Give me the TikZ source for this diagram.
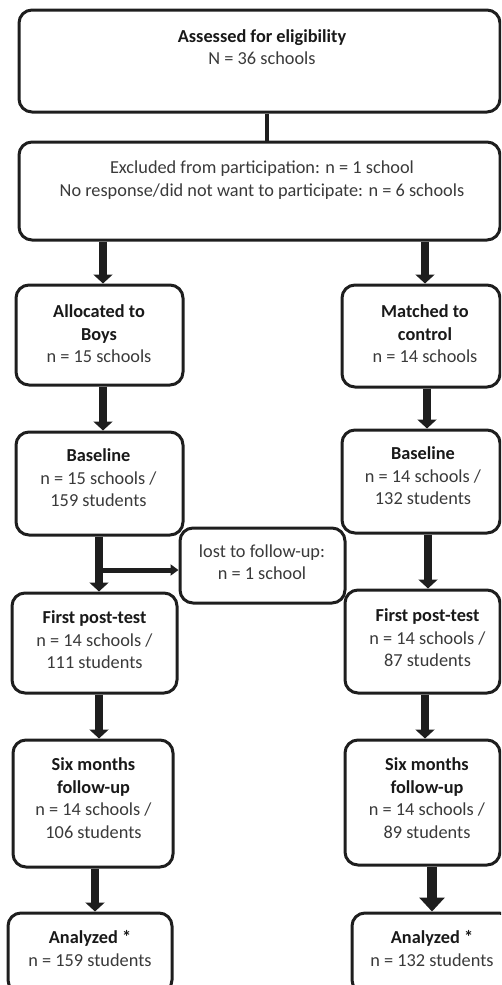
\documentclass[tikz,border=0pt]{standalone}
\usepackage{fontspec}
\setmainfont{Carlito}
\usetikzlibrary{arrows.meta}
\definecolor{ink}{HTML}{1E1E1E}
\definecolor{txt}{HTML}{3A3A3A}
\tikzset{
  box/.style={draw=ink, line width=3pt, rounded corners=13pt, fill=white,
    inner sep=0pt},
  lbl/.style={align=center, text=txt, font=\fontsize{18.3}{22.5}\selectfont,
    inner sep=0pt},
  flow/.style={draw=ink, line width=7.5pt, -{Triangle[width=19pt,length=9pt]}},
  bigflow/.style={draw=ink, line width=10pt, -{Triangle[width=25pt,length=14pt]}},
  side/.style={draw=ink, line width=5pt, -{Triangle[width=11pt,length=8pt]}},
  link/.style={draw=ink, line width=4pt},
}
\newcommand{\hd}[1]{\textbf{\color{black!90}#1}}
\begin{document}
\begin{tikzpicture}[x=1pt,y=-1pt]
\useasboundingbox (0,0) rectangle (501,985);
\clip (0,0) rectangle (501,985);

% boxes: centre, width, height (in px-sized points)
\node[box, minimum width=481, minimum height=102] (assess) at (259.5,61) {};
\node[box, minimum width=481, minimum height=98]  (excl)   at (259.5,191) {};
\node[box, minimum width=167, minimum height=100] (alloc)  at (99.5,335) {};
\node[box, minimum width=158, minimum height=102] (match)  at (421,336) {};
\node[box, minimum width=167, minimum height=103] (baseL)  at (99.5,483.5) {};
\node[box, minimum width=158, minimum height=103] (baseR)  at (421,481.5) {};
\node[box, minimum width=165, minimum height=75]  (lost)   at (262.5,565.5) {};
\node[box, minimum width=165, minimum height=100] (firstL) at (94.5,643) {};
\node[box, minimum width=155, minimum height=103] (firstR) at (422.5,641.5) {};
\node[box, minimum width=160, minimum height=127] (sixL)   at (93,803.5) {};
\node[box, minimum width=155, minimum height=125] (sixR)   at (422.5,802.5) {};
\node[box, minimum width=164, minimum height=80]  (anaL)   at (90,953) {};
\node[box, minimum width=160, minimum height=80]  (anaR)   at (432,953) {};

% box texts
\node[lbl] (assessT) at (262,47) {\hd{Assessed for eligibility}\\N = 36 schools};
\node[lbl] (exclT)   at (262,180) {Excluded from participation: n = 1 school\\No response/did not want to participate: n = 6 schools};
\node[lbl] (allocT)  at (99,334) {\hd{Allocated to}\\\hd{Boys}\\n = 15 schools};
\node[lbl] (matchT)  at (425,334) {\hd{Matched to}\\\hd{control}\\n = 14 schools};
\node[lbl] (baseLT)  at (98.5,478) {\hd{Baseline}\\n = 15 schools /\\159 students};
\node[lbl] (baseRT)  at (423,476) {\hd{Baseline}\\n = 14 schools /\\132 students};
\node[lbl] (lostT)   at (262,562) {lost to follow-up:\\n = 1 school};
\node[lbl] (firstLT) at (94.5,640) {\hd{First post-test}\\n = 14 schools /\\111 students};
\node[lbl] (firstRT) at (427.5,638) {\hd{First post-test}\\n = 14 schools /\\87 students};
\node[lbl] (sixLT)   at (93.5,798) {\hd{Six months}\\\hd{follow-up}\\n = 14 schools /\\106 students};
\node[lbl] (sixRT)   at (427,798) {\hd{Six months}\\\hd{follow-up}\\n = 14 schools /\\89 students};
\node[lbl] (anaLT)   at (90,948.5) {\hd{Analyzed *}\\n = 159 students};
\node[lbl] (anaRT)   at (432,948.5) {\hd{Analyzed *}\\n = 132 students};

% connectors
\draw[link] (assess.south -| 267,0) -- (excl.north -| 267,0);
\draw[flow] (excl.south -| 103,0) -- (alloc.north -| 103,0);
\draw[flow] (excl.south -| 425,0) -- (match.north -| 425,0);
\draw[flow] (alloc.south -| 103,0) -- (baseL.north -| 103,0);
\draw[flow] (match.south -| 427,0) -- (baseR.north -| 427,0);
\draw[flow] (baseL.south -| 99,0) -- (firstL.north -| 99,0);
\coordinate (branch) at (99,570);
\draw[side] (branch) -- (branch -| lost.west);
\draw[flow] (baseR.south -| 428,0) -- (firstR.north -| 428,0);
\draw[flow] (firstL.south -| 99,0) -- (sixL.north -| 99,0);
\draw[flow] (firstR.south -| 425,0) -- (sixR.north -| 425,0);
\draw[flow] (sixL.south -| 95,0) -- (anaL.north -| 95,0);
\draw[bigflow] (sixR.south -| 432,0) -- (anaR.north -| 432,0);
\end{tikzpicture}
\end{document}
